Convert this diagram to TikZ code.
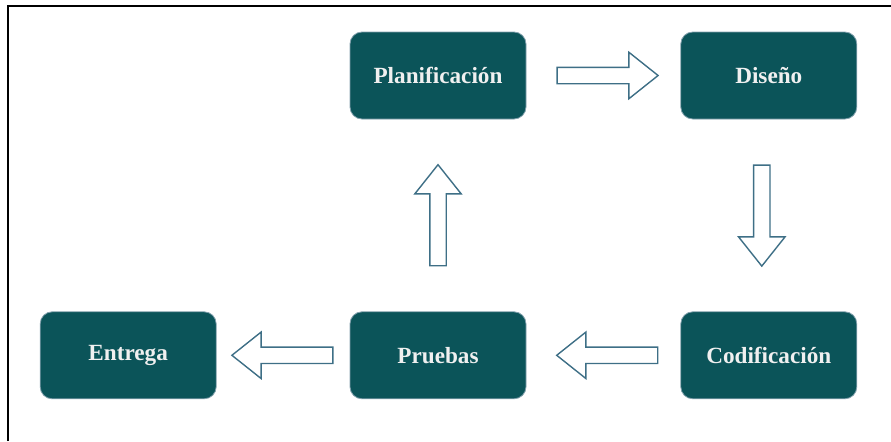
\documentclass[tikz,border=0pt]{standalone}
\usepackage{fontspec}
\setmainfont{Liberation Serif}
\usetikzlibrary{
  positioning,
  calc,
  shapes.arrows
}
\definecolor{deepTeal}{RGB}{11,84,89}
\definecolor{rimGrey}{RGB}{130,160,172}
\definecolor{steelBlue}{RGB}{62,111,134}
\tikzset{
  phase/.style={
    fill=deepTeal,
    draw=rimGrey,
    line width=0.4pt,
    rounded corners=6pt,
    minimum width=88pt,
    minimum height=43.5pt,
    inner sep=0pt,
    text=white!94!black,
    font=\bfseries\fontsize{11.6}{14}\selectfont
  },
  flow/.style={
    single arrow,
    draw=steelBlue,
    fill=white,
    line width=0.7pt,
    minimum height=50.5pt,
    inner sep=3.75pt,
    single arrow head extend=7.5pt,
    single arrow tip angle=77,
    anchor=tail
  }
}

\begin{document}
\begin{tikzpicture}[
      x=0.5pt, y=0.5pt,
      node distance=96pt and 77pt
      ]
      \useasboundingbox (0,0) rectangle (891,441);
      \draw[line width=1pt] (8,0) -- (8,435) -- (891,435);

      \node[phase] (plan) at (438,365.5) {Planificación};
      \node[phase, right=of plan] (dis) {Diseño};
      \node[phase, below=of dis] (cod) {Codificación};
      \node[phase, below=of plan] (pru) {Pruebas};
      \node[phase, left=66.5pt of pru] (ent) {Entrega};

      % hollow block arrows between the phases
      \node[flow] (plan2dis) at ($(plan.east)+(30,0)$) {};
      \node[flow, shape border rotate=270] (dis2cod) at ($(dis.south)+(-7,-45)$) {};
      \node[flow, shape border rotate=180] (cod2pru) at ($(cod.west)+(-22,0)$) {};
      \node[flow, shape border rotate=180] (pru2ent) at ($(pru.west)+(-16,0)$) {};
      \node[flow, shape border rotate=90] (pru2plan) at ($(pru.north)+(0,45)$) {};
    \end{tikzpicture}
\end{document}
